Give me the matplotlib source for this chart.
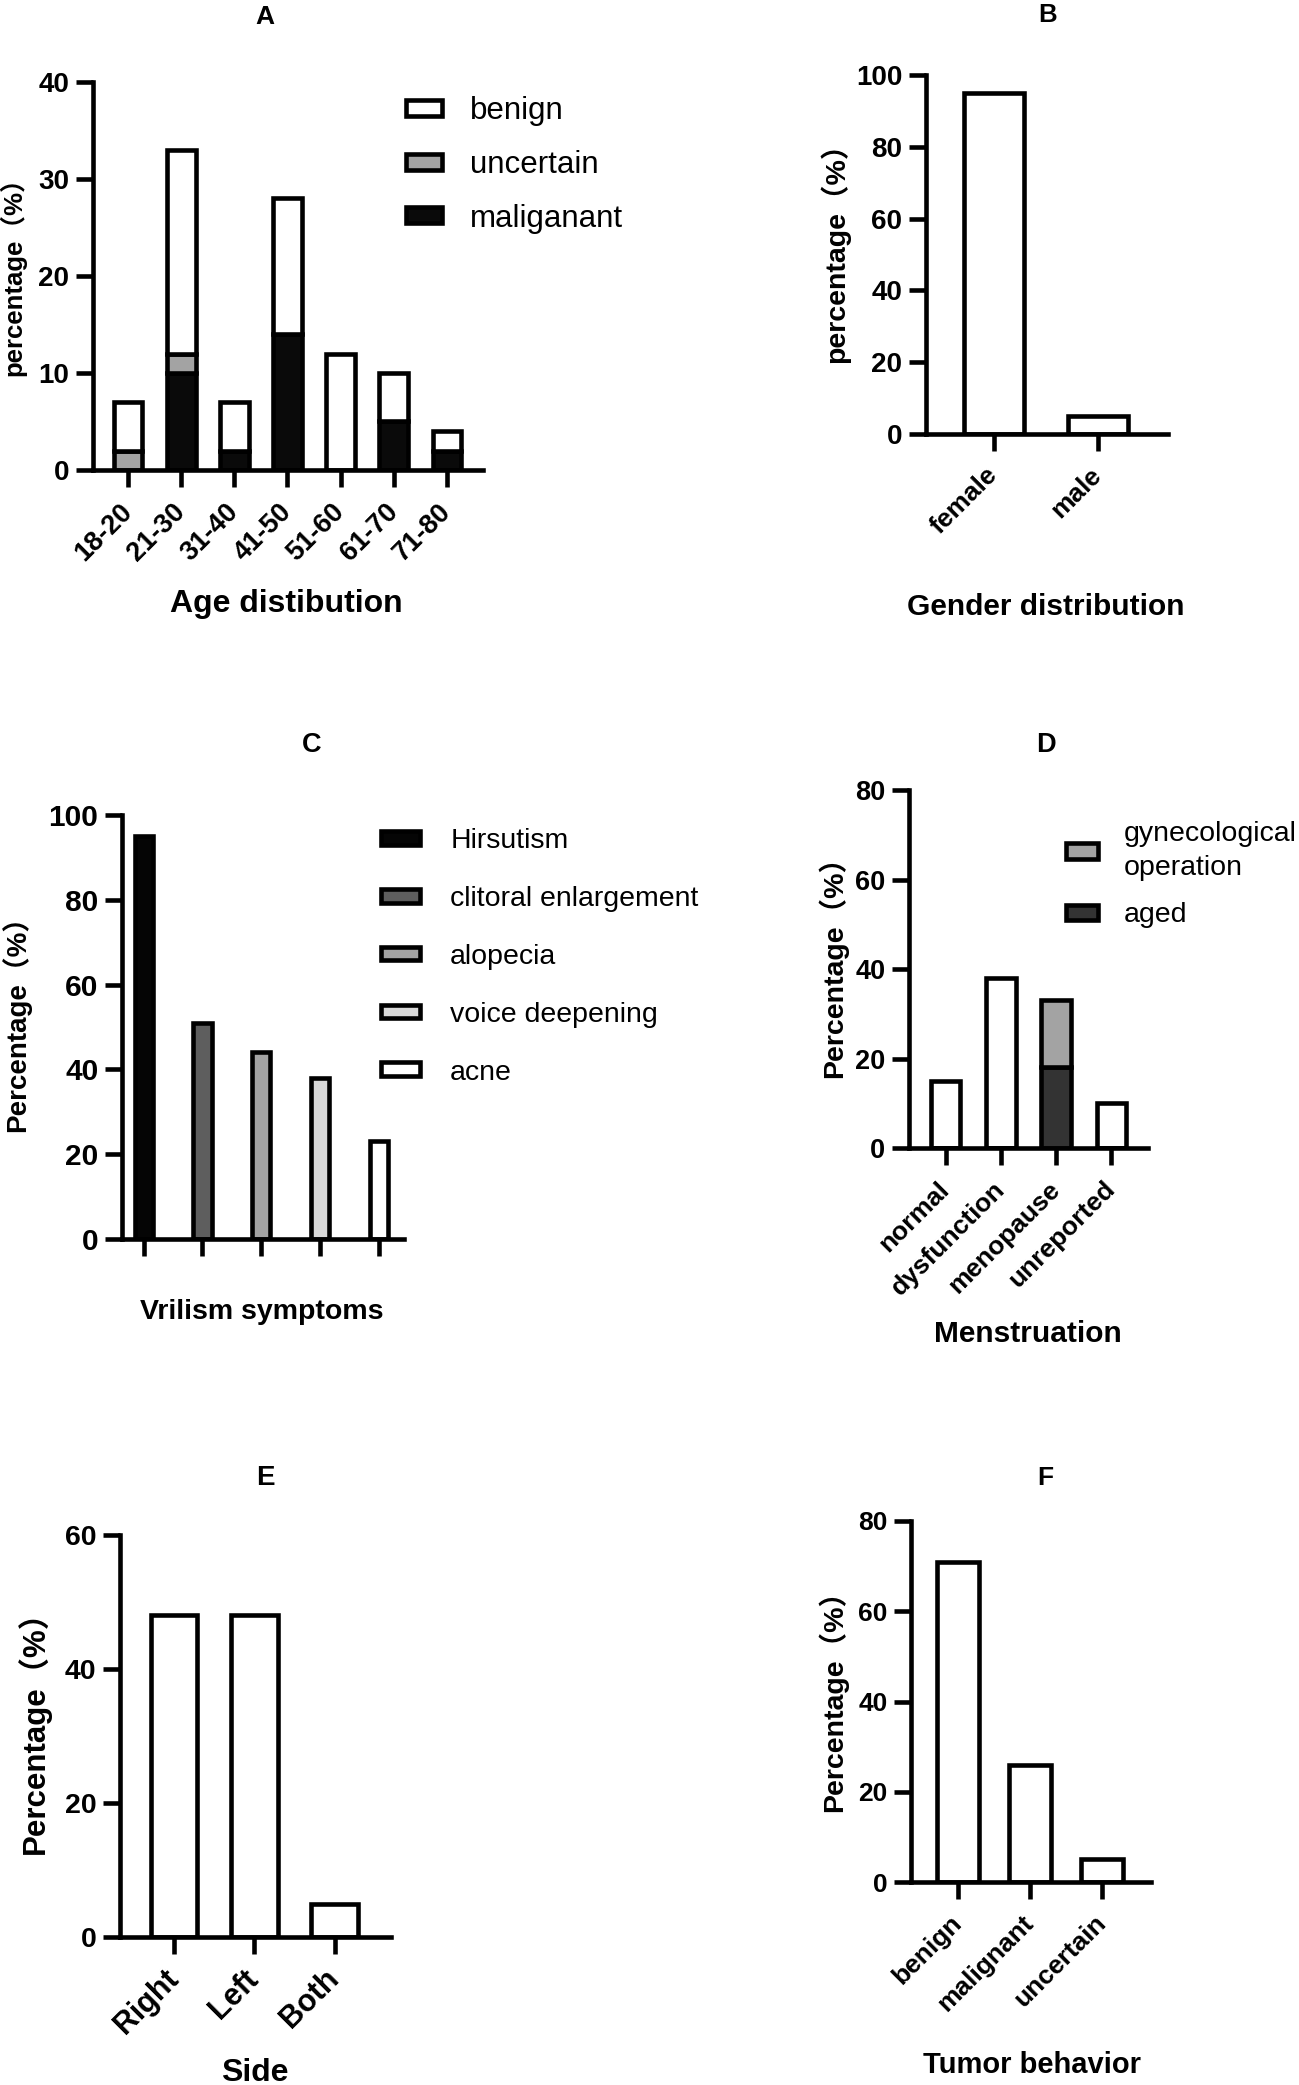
import matplotlib
matplotlib.use('Agg')
import matplotlib.pyplot as plt
import numpy as np

# ---- figure size in pixels (dpi 100) ----
W, H = 1299, 2085
LW = 3.3          # spine / bar edge width (pt)
TICK_LEN = 12

plt.rcParams['font.family'] = ['Liberation Sans', 'Noto Sans CJK SC', 'DejaVu Sans']
plt.rcParams['font.weight'] = 'bold'

# ==========================================
# Data
# ==========================================
age_groups = ['18-20', '21-30', '31-40', '41-50', '51-60', '61-70', '71-80']
age_malignant = [0, 10, 2, 14, 0, 5, 2]
age_uncertain = [2, 2, 0, 0, 0, 0, 0]
age_benign = [5, 21, 5, 14, 12, 5, 2]

gender_labels = ['female', 'male']
gender_pct = [95, 5]

virilism_labels = ['Hirsutism', 'clitoral enlargement', 'alopecia', 'voice deepening', 'acne']
virilism_pct = [95, 51, 44, 38, 23]
virilism_colors = ['#050505', '#5e5e5e', '#a3a3a3', '#d9d9d9', '#ffffff']

mens_labels = ['normal', 'dysfunction', 'menopause', 'unreported']
mens_plain = [15, 38, 0, 10]
meno_aged = [0, 0, 18, 0]
meno_gyn = [0, 0, 15, 0]

side_labels = ['Right', 'Left', 'Both']
side_pct = [48, 48, 5]

tumor_labels = ['benign', 'malignant', 'uncertain']
tumor_pct = [71, 26, 5]

fig = plt.figure(figsize=(W / 100, H / 100), dpi=100)


def px_axes(left, top, right, bottom):
    return fig.add_axes([left / W, 1 - bottom / H, (right - left) / W, (bottom - top) / H])


def style(ax, ymax, ystep, ysize, xlim):
    for s in ['top', 'right']:
        ax.spines[s].set_visible(False)
    for s in ['left', 'bottom']:
        ax.spines[s].set_linewidth(LW)
    ax.set_xlim(*xlim)
    ax.set_ylim(0, ymax)
    ax.set_yticks(np.arange(0, ymax + 1, ystep))
    ax.tick_params(axis='both', width=LW, length=TICK_LEN, pad=5)
    ax.tick_params(axis='y', labelsize=ysize)


def cats(ax, labels, size, pad=15):
    ax.set_xticks(range(len(labels)))
    ax.set_xticklabels(labels, rotation=45, ha='right', va='center',
                       rotation_mode='anchor', fontsize=size)
    ax.tick_params(axis='x', pad=pad)


def put(x, y, s, size, rot=0, **kw):
    fig.text(x / W, 1 - y / H, s, fontsize=size, ha='center', va='center',
             rotation=rot, **kw)


def legend(ax, handles, labels, x, y, size, hl, hh, tp, ls):
    return ax.legend(handles, labels, loc='upper left', bbox_to_anchor=(x / W, 1 - y / H),
                     bbox_transform=fig.transFigure, frameon=False,
                     prop={'size': size, 'weight': 'normal'},
                     handlelength=hl, handleheight=hh, handletextpad=tp,
                     labelspacing=ls, borderpad=0, borderaxespad=0)


edge = dict(edgecolor='black', linewidth=LW)

# ---- A: age ----
ax = px_axes(93, 82, 483, 470)
x = np.arange(len(age_groups))
b_mal = ax.bar(x, age_malignant, 0.54, color='#0a0a0a', **edge)
b_unc = ax.bar(x, age_uncertain, 0.54, bottom=age_malignant, color='#a3a3a3', **edge)
bot = np.array(age_malignant) + np.array(age_uncertain)
b_ben = ax.bar(x, age_benign, 0.54, bottom=bot, color='white', **edge)
style(ax, 40, 10, 20, (-0.66, 6.68))
cats(ax, age_groups, 19.5)
legend(ax, [b_ben, b_unc, b_mal], ['benign', 'uncertain', 'maliganant'],
       406, 96, 22.5, 1.16, 0.41, 0.88, 0.76)
put(265, 17, 'A', 19)
put(286, 604, 'Age distibution', 23)
put(13, 270, 'percentage（%）', 18.5, rot=90)

# ---- B: gender ----
ax = px_axes(926, 75, 1168, 434)
ax.bar(range(len(gender_labels)), gender_pct, 0.57, color='white', **edge)
style(ax, 100, 20, 20, (-0.65, 1.67))
cats(ax, gender_labels, 19)
put(1048, 15, 'B', 18.5)
put(1046, 607, 'Gender distribution', 21.5)
put(835, 246, 'percentage（%）', 20.5, rot=90)

# ---- C: virilism ----
ax = px_axes(122, 815, 404, 1239)
bars_c = ax.bar(range(len(virilism_labels)), virilism_pct, 0.31,
                color=virilism_colors, **edge)
style(ax, 100, 20, 21.5, (-0.37, 4.43))
ax.set_xticks(range(len(virilism_labels)))
ax.set_xticklabels([])
legend(ax, list(bars_c), virilism_labels, 381, 828, 20.5, 1.38, 0.37, 1.05, 1.12)
put(312, 745, 'C', 19.5)
put(262, 1312, 'Vrilism symptoms', 20.5)
put(16, 1017, 'Percentage（%）', 20, rot=90)

# ---- D: menstruation ----
ax = px_axes(909, 790, 1148, 1148)
xd = np.arange(len(mens_labels))
ax.bar(xd, mens_plain, 0.53, color='white', **edge)
b_aged = ax.bar(xd, meno_aged, 0.53, color='#333333', **edge)
b_gyn = ax.bar(xd, meno_gyn, 0.53, bottom=meno_aged, color='#a3a3a3', **edge)
style(ax, 80, 20, 19.5, (-0.67, 3.67))
cats(ax, mens_labels, 19)
leg = legend(ax, [b_gyn, b_aged], ['gynecological\noperation', 'aged'],
             1066, 821, 20.5, 1.13, 0.45, 0.9, 0.75)
for t in leg.get_texts():
    t.set_linespacing(1.4)
put(1046, 745, 'D', 19.5)
put(1028, 1334, 'Menstruation', 21.5)
put(833, 960, 'Percentage（%）', 20.5, rot=90)

# ---- E: side ----
ax = px_axes(120, 1535, 391, 1937)
ax.bar(range(len(side_labels)), side_pct, 0.58, color='white', **edge)
style(ax, 60, 20, 20.5, (-0.67, 2.70))
cats(ax, side_labels, 22)
put(265, 1478, 'E', 20)
put(255, 2073, 'Side', 23)
put(34, 1725, 'Percentage（%）', 22.5, rot=90)

# ---- F: tumor behavior ----
ax = px_axes(911, 1521, 1151, 1882)
ax.bar(range(len(tumor_labels)), tumor_pct, 0.575, color='white', **edge)
style(ax, 80, 20, 19, (-0.65, 2.68))
cats(ax, tumor_labels, 19)
put(1045, 1478, 'F', 19)
put(1032, 2065, 'Tumor behavior', 21)
put(833, 1694, 'Percentage（%）', 20.5, rot=90)

fig.savefig('out.png', dpi=100)
